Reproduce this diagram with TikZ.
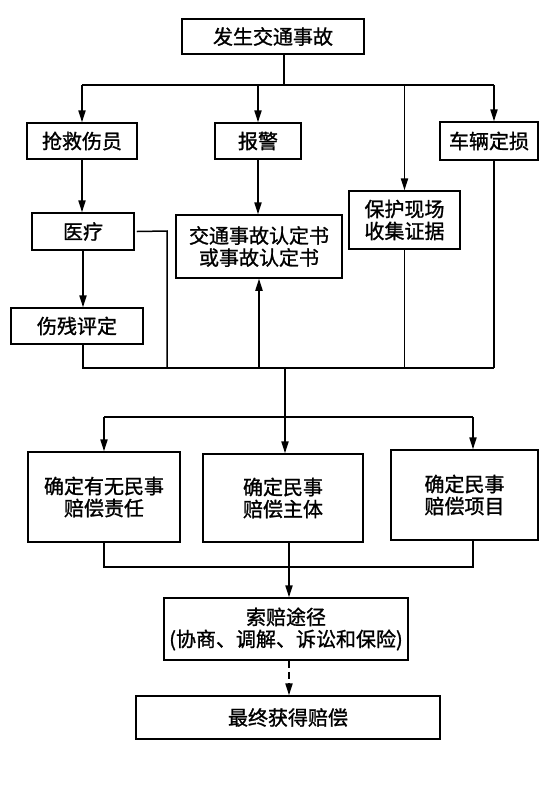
\documentclass[tikz,border=0pt]{standalone}
\usepackage{fontspec}
\setmainfont{Noto Sans CJK SC}[FakeBold=1.2]
\usetikzlibrary{arrows.meta}
\begin{document}
\begin{tikzpicture}[x=0.5pt, y=-0.5pt, line width=0.75pt,
    box/.style={draw, line width=0.75pt, align=center, inner sep=0pt,
      font=\fontsize{10}{11}\selectfont},
    arr/.style={-{Triangle[length=6pt,width=3.6pt]}}]
    \useasboundingbox (0,0) rectangle (552,800);
    % Riquadri
    \node[box, minimum width=91pt, minimum height=17.5pt] (fs) at (273,36.5) {发生交通事故};
    \node[box, minimum width=55pt, minimum height=18pt] (qj) at (82,141) {抢救伤员};
    \node[box, minimum width=43pt, minimum height=18pt] (bj) at (258,141) {报警};
    \node[box, minimum width=49pt, minimum height=19pt] (cl) at (489,141) {车辆定损};
    \node[box, minimum width=55.5pt, minimum height=29pt] (bh) at (404.5,220) {保护现场\\收集证据};
    \node[box, minimum width=51pt, minimum height=18.5pt] (yl) at (83,231.5) {医疗};
    \node[box, minimum width=66pt, minimum height=18pt] (sc) at (77,326) {伤残评定};
    \node[box, minimum width=83pt, minimum height=31.5pt] (rd) at (259,246.5) {交通事故认定书\\或事故认定书};
    \node[box, minimum width=76pt, minimum height=45pt] (zr) at (104,497) {确定有无民事\\赔偿责任};
    \node[box, minimum width=80pt, minimum height=44pt] (zt) at (283,498) {确定民事\\赔偿主体};
    \node[box, minimum width=73.5pt, minimum height=45pt] (xm) at (464.5,495) {确定民事\\赔偿项目};
    \node[box, minimum width=122pt, minimum height=31pt] (sp) at (286,629) {索赔途径\\(协商、调解、诉讼和保险)};
    \node[box, minimum width=152pt, minimum height=21.5pt] (zz) at (288,717.5) {最终获得赔偿};
    % Punti di raccordo
    \coordinate (t1) at (284,85);
    \coordinate (t2) at (285,368);
    \coordinate (t3) at (285,417);
    \coordinate (t4) at (289,567);
    \coordinate (cx) at (494,160);
    \coordinate (yx) at (167,231);
    \coordinate (rx) at (473,417);
    % Primo livello
    \draw (fs.south -| t1) -- (t1);
    \draw (qj.north |- t1) -- (cx |- t1);
    \foreach \n in {qj,bj,bh}
        \draw[arr] (\n.north |- t1) -- (\n.north);
    \draw[arr] (cx |- t1) -- (cx |- cl.north);
    \draw[arr] (qj.south) -- (qj.south |- yl.north);
    \draw[arr] (yl.south) -- (yl.south |- sc.north);
    \draw[arr] (bj.south) -- (bj.south |- rd.north);
    % Raccolta
    \draw ([xshift=1pt]yl.east) -- (yx) -- (yx |- t2);
    \draw (yl.south |- sc.south) -- (yl.south |- t2) -- (cx |- t2);
    \draw (bh.south) -- (bh.south |- t2);
    \draw (cx |- cl.south) -- (cx |- t2);
    \draw[arr] (rd.south |- t2) -- (rd.south);
    \draw (t2) -- (t3);
    % Secondo livello
    \draw (zr.north |- t3) -- (rx);
    \draw[arr] (zr.north |- t3) -- (zr.north);
    \draw[arr] (t3) -- (t3 |- zt.north);
    \draw[arr] (rx) -- (rx |- xm.north);
    \draw (zr.south) -- (zr.south |- t4) -- (rx |- t4) -- (rx |- xm.south);
    \draw[arr] (t4 |- zt.south) -- (t4 |- sp.north);
    \draw[arr, dash pattern=on 3.5pt off 2pt] (t4 |- sp.south) -- (t4 |- zz.north);
\end{tikzpicture}
\end{document}
